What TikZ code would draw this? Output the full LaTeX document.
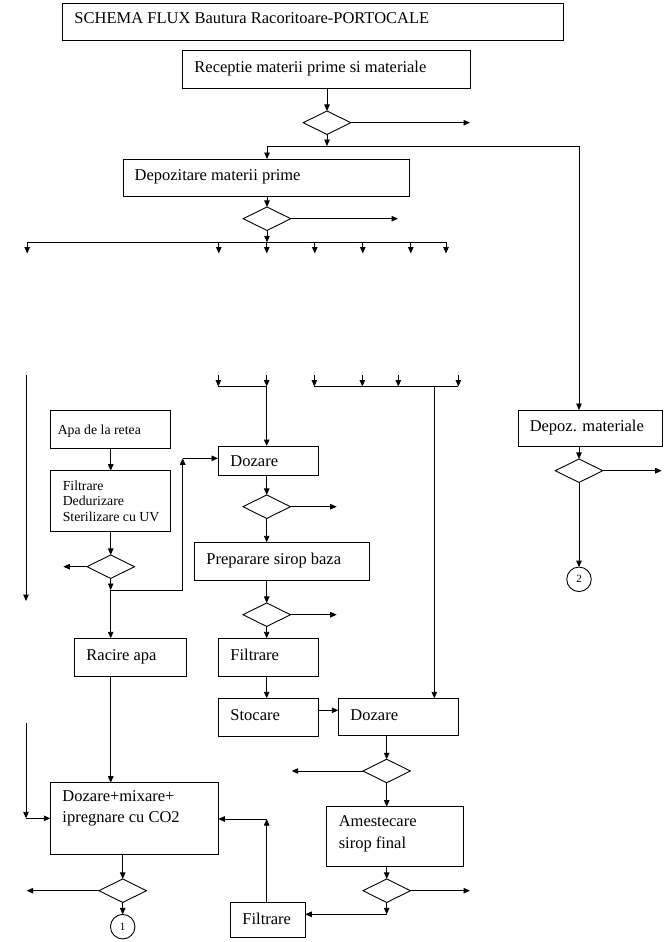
\documentclass[tikz,border=0pt]{standalone}
\usepackage{fontspec}
\setmainfont{Liberation Serif}
\usetikzlibrary{shapes.geometric,arrows.meta,calc}
\begin{document}
\begin{tikzpicture}[x=1pt,y=-1pt,line width=0.9pt,
  box/.style={draw,rectangle,inner sep=0pt,outer sep=0pt,anchor=north west},
  dia/.style={draw,diamond,inner sep=0pt,outer sep=0pt,minimum width=47.5pt,minimum height=23.5pt},
  circ/.style={draw,circle,inner sep=0pt,outer sep=0pt,minimum size=24.5pt,font=\fontsize{11}{13}\selectfont},
  txt/.style={anchor=base west,inner sep=0pt,font=\fontsize{16.5}{20}\selectfont},
  stxt/.style={anchor=base west,inner sep=0pt,font=\fontsize{13.8}{16}\selectfont},
  arr/.style={-{Triangle[length=6.5pt,width=5.5pt]}}]
\useasboundingbox (0,0) rectangle (666,942);

% ---- boxes ----
\node[box,minimum width=501pt,minimum height=37.5pt] (title) at (62,3) {};
\node[box,minimum width=288pt,minimum height=38pt] (rec) at (182,50) {};
\node[box,minimum width=286.5pt,minimum height=37pt] (dep) at (123,159) {};
\node[box,minimum width=120pt,minimum height=37.6pt] (apa) at (50.7,410.7) {};
\node[box,minimum width=120pt,minimum height=60.3pt] (filt) at (50.7,470.7) {};
\node[box,minimum width=100.3pt,minimum height=29.3pt] (doz1) at (218,446) {};
\node[box,minimum width=175.7pt,minimum height=37.7pt] (prep) at (194,542.3) {};
\node[box,minimum width=112pt,minimum height=38pt] (rac) at (74.3,638.3) {};
\node[box,minimum width=100pt,minimum height=38pt] (filt2) at (218.3,638.3) {};
\node[box,minimum width=100pt,minimum height=38pt] (stoc) at (218.3,698.3) {};
\node[box,minimum width=120pt,minimum height=37pt] (doz2) at (338.3,698.3) {};
\node[box,minimum width=137pt,minimum height=59.6pt] (ames) at (326.3,806.7) {};
\node[box,minimum width=74.6pt,minimum height=34.6pt] (filt3) at (230.7,902.7) {};
\node[box,minimum width=168pt,minimum height=71.6pt] (dm) at (50.3,782.7) {};
\node[box,minimum width=144pt,minimum height=36.7pt] (depm) at (518.3,410) {};

% ---- texts ----
\node[txt] (ttitle) at (74,24) {SCHEMA FLUX Bautura Racoritoare-PORTOCALE};
\node[txt] (trec) at (194,72.3) {Receptie materii prime si materiale};
\node[txt] (tdep) at (134.2,180) {Depozitare materii prime};
\node[stxt] (tapa) at (57.3,434) {Apa de la retea};
\node[stxt] (tf1) at (62.3,490) {Filtrare};
\node[stxt] (tf2) at (62.3,505.7) {Dedurizare};
\node[stxt] (tf3) at (62.3,521) {Sterilizare cu UV};
\node[txt] (tdoz1) at (230,466.7) {Dozare};
\node[txt] (tprep) at (206,564) {Preparare sirop baza};
\node[txt] (trac) at (86,660) {Racire apa};
\node[txt] (tfilt2) at (230,660) {Filtrare};
\node[txt] (tstoc) at (230,720) {Stocare};
\node[txt] (tdoz2) at (350,720) {Dozare};
\node[txt] (tam1) at (338.3,826.7) {Amestecare};
\node[txt] (tam2) at (338.3,848.3) {sirop final};
\node[txt] (tdm1) at (62,801.7) {Dozare+mixare+};
\node[txt] (tdm2) at (62,822.7) {ipregnare cu CO2};
\node[txt] (tfilt3) at (242,924) {Filtrare};
\node[txt] (tdepm) at (529.3,431.7) {Depoz. materiale};

% ---- diamonds and circles ----
\node[dia] (d1) at (327,122.7) {};
\node[dia] (d2) at (267,218.7) {};
\node[dia] (d3) at (110.7,566.7) {};
\node[dia] (d4) at (266.7,506.7) {};
\node[dia] (d5) at (266.7,614.7) {};
\node[dia] (d6) at (386.7,771) {};
\node[dia] (d7) at (386.7,890.7) {};
\node[dia] (d8) at (122.7,890.7) {};
\node[dia] (d9) at (579,470.7) {};
\node[circ] (c1) at (122.7,926.7) {1};
\node[circ] (c2) at (579,579.3) {2};

% ---- free-end coordinates ----
\coordinate (e1) at (470,122.7);
\coordinate (j1) at (327,146);
\coordinate (j1l) at (267,146);
\coordinate (j1r) at (579,146);
\coordinate (e2) at (398,218.7);
\coordinate (j2) at (267,242.3);
\coordinate (j2l) at (27.2,242.3);
\coordinate (j2r) at (446,242.3);
\coordinate (e3) at (63.3,566.7);
\coordinate (j3) at (110.7,590);
\coordinate (j3r) at (182.7,590);
\coordinate (j4) at (182.7,458.3);
\coordinate (e4) at (336.7,506.7);
\coordinate (e5) at (336.7,614.7);
\coordinate (e6) at (291.7,771);
\coordinate (e7) at (470,890.7);
\coordinate (j7) at (386.7,914.3);
\coordinate (j8) at (266.7,819);
\coordinate (l1) at (26,722.7);
\coordinate (l2) at (26,818.3);
\coordinate (e8) at (26.7,890.7);
\coordinate (e9) at (661.7,470.7);
\coordinate (lt) at (26,375);
\coordinate (lb) at (26,601);
\coordinate (r2a) at (218.3,386.5);
\coordinate (r2b) at (266.7,386.5);
\coordinate (r2c) at (314.3,386.5);
\coordinate (r2d) at (458.3,386.5);
\coordinate (r2e) at (434.3,386.5);
\coordinate (s1) at ($(stoc.north east)+(0,12)$);

% ---- connectors ----
\draw[arr] (rec.south -| d1.north) -- (d1.north);
\draw[arr] (d1.east) -- (e1);
\draw[arr] (d1.south) -- (j1);
\draw (j1l) -- (j1r);
\draw[arr] (j1l) -- (j1l |- dep.north);
\draw[arr] (j1r) -- (j1r |- depm.north);

\draw[arr] (dep.south -| d2.north) -- (d2.north);
\draw[arr] (d2.east) -- (e2);
\draw[arr] (d2.south) -- (j2);
\draw (j2l) -- (j2r);
\foreach \i/\xx in {1/27.2,2/218.8,3/266.8,4/314.8,5/362.8,6/410.8,7/446}{
  \coordinate (sa\i) at (\xx,242.3);
  \coordinate (sb\i) at (\xx,253.5);
  \draw[arr] (sa\i) -- (sb\i);
}
\foreach \i/\xx in {1/218.3,2/266.7,3/314.3,4/362.3,5/398.3,6/458.3}{
  \coordinate (ta\i) at (\xx,375);
  \coordinate (tb\i) at (\xx,386.5);
  \draw[arr] (ta\i) -- (tb\i);
}
\draw (r2a) -- (r2b);
\draw (r2c) -- (r2d);
\draw[arr] (r2b) -- (r2b |- doz1.north);
\draw[arr] (r2e) -- (r2e |- doz2.north);
\draw[arr] (lt) -- (lb);

\draw[arr] (apa.south) -- (filt.north);
\draw[arr] (filt.south) -- (d3.north);
\draw[arr] (d3.west) -- (e3);
\draw[arr] (d3.south) -- (j3);
\draw[arr] (j3) -- (j3r) -- (j4);
\draw[arr] (j4) -- (j4 -| doz1.west);
\draw[arr] (j3) -- (j3 |- rac.north);

\draw[arr] (doz1.south -| d4.north) -- (d4.north);
\draw[arr] (d4.east) -- (e4);
\draw[arr] (d4.south) -- (d4.south |- prep.north);
\draw[arr] (prep.south -| d5.north) -- (d5.north);
\draw[arr] (d5.east) -- (e5);
\draw[arr] (d5.south) -- (d5.south |- filt2.north);
\draw[arr] (filt2.south -| d5.south) -- (d5.south |- stoc.north);
\draw[arr] (s1) -- (s1 -| doz2.west);

\draw[arr] (doz2.south -| d6.north) -- (d6.north);
\draw[arr] (d6.west) -- (e6);
\draw[arr] (d6.south) -- (d6.south |- ames.north);
\draw[arr] (ames.south -| d7.north) -- (d7.north);
\draw[arr] (d7.east) -- (e7);
\draw[arr] (d7.south) -- (j7);
\draw[arr] (j7) -- (j7 -| filt3.east);
\draw[arr] (filt3.north -| j8) -- (j8);
\draw[arr] (j8) -- (j8 -| dm.east);

\draw[arr] (rac.south -| j3) -- (j3 |- dm.north);
\draw[arr] (l1) -- (l2);
\draw[arr] (l2) -- (l2 -| dm.west);
\draw[arr] (dm.south -| d8.north) -- (d8.north);
\draw[arr] (d8.west) -- (e8);
\draw[arr] (d8.south) -- (c1.north);

\draw[arr] (depm.south -| d9.north) -- (d9.north);
\draw[arr] (d9.east) -- (e9);
\draw[arr] (d9.south) -- (c2.north);
\end{tikzpicture}
\end{document}
